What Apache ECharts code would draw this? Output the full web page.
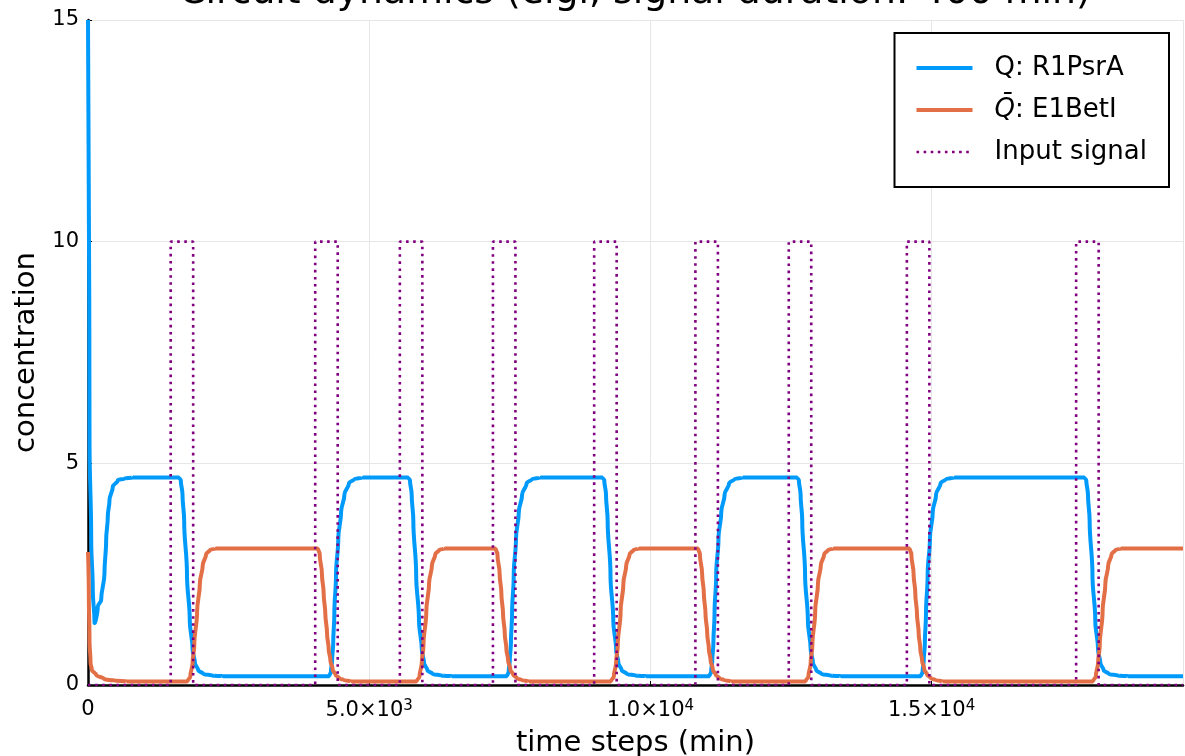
<!DOCTYPE html>
<html>
<head>
<meta charset="utf-8">
<script src="https://cdn.jsdelivr.net/npm/echarts@6/dist/echarts.min.js"></script>
<style>
  html, body { margin: 0; padding: 0; background: #ffffff; }
  #chart { width: 1185px; height: 756px; }
</style>
</head>
<body>
<div id="chart"></div>
<script>
// Q: R1PsrA concentration, [time (min), value]
const qPoints = [
  [0, 15], [27, 5.5], [57, 3.27], [85, 2.14], [115, 1.43], [174, 1.77], [234, 1.92],
  [293, 2.52], [323, 3.27], [352, 3.8], [382, 4.17], [441, 4.47], [530, 4.62], [649, 4.66], [800, 4.68],
  [1620, 4.68], [1650, 4.62], [1680, 4.3], [1710, 3.7], [1760, 2.5], [1810, 1.45], [1860, 0.8],
  [1900, 0.5], [1960, 0.33], [2050, 0.25], [2220, 0.21], [2400, 0.2],
  [4290, 0.2], [4320, 0.3], [4340, 0.55], [4360, 0.95], [4380, 1.6], [4410, 2.5], [4450, 3.3],
  [4500, 3.9], [4560, 4.3], [4640, 4.55], [4740, 4.65], [4890, 4.68],
  [5695, 4.68], [5725, 4.62], [5755, 4.3], [5785, 3.7], [5835, 2.5], [5885, 1.45], [5935, 0.8],
  [5975, 0.5], [6035, 0.33], [6125, 0.25], [6295, 0.21], [6475, 0.2],
  [7450, 0.2], [7480, 0.3], [7500, 0.55], [7520, 0.95], [7540, 1.6], [7570, 2.5], [7610, 3.3],
  [7660, 3.9], [7720, 4.3], [7800, 4.55], [7900, 4.65], [8050, 4.68],
  [9150, 4.68], [9180, 4.62], [9210, 4.3], [9240, 3.7], [9290, 2.5], [9340, 1.45], [9390, 0.8],
  [9430, 0.5], [9490, 0.33], [9580, 0.25], [9750, 0.21], [9930, 0.2],
  [11050, 0.2], [11080, 0.3], [11100, 0.55], [11120, 0.95], [11140, 1.6], [11170, 2.5], [11210, 3.3],
  [11260, 3.9], [11320, 4.3], [11400, 4.55], [11500, 4.65], [11650, 4.68],
  [12610, 4.68], [12640, 4.62], [12670, 4.3], [12700, 3.7], [12750, 2.5], [12800, 1.45], [12850, 0.8],
  [12890, 0.5], [12950, 0.33], [13040, 0.25], [13210, 0.21], [13390, 0.2],
  [14810, 0.2], [14840, 0.3], [14860, 0.55], [14880, 0.95], [14900, 1.6], [14930, 2.5], [14970, 3.3],
  [15020, 3.9], [15080, 4.3], [15160, 4.55], [15260, 4.65], [15410, 4.68],
  [17720, 4.68], [17750, 4.62], [17780, 4.3], [17810, 3.7], [17860, 2.5], [17910, 1.45], [17960, 0.8],
  [18000, 0.5], [18060, 0.33], [18150, 0.25], [18320, 0.21], [18500, 0.2],
  [19470, 0.2]
];

// Q-bar: E1BetI concentration, [time (min), value]
const qbarPoints = [
  [0, 3.0], [15, 2.0], [27, 1.0], [45, 0.5], [68, 0.34], [145, 0.23], [293, 0.13], [471, 0.1], [700, 0.08],
  [1770, 0.08], [1820, 0.2], [1860, 0.5], [1890, 0.9], [1940, 1.65], [1990, 2.3], [2040, 2.7],
  [2100, 2.95], [2170, 3.05], [2270, 3.08],
  [4090, 3.08], [4120, 2.95], [4160, 2.5], [4190, 2.07], [4220, 1.6], [4250, 1.17], [4280, 0.8],
  [4310, 0.56], [4350, 0.35], [4400, 0.23], [4470, 0.15], [4550, 0.11], [4690, 0.08],
  [5845, 0.08], [5895, 0.2], [5935, 0.5], [5965, 0.9], [6015, 1.65], [6065, 2.3], [6115, 2.7],
  [6175, 2.95], [6245, 3.05], [6345, 3.08],
  [7250, 3.08], [7280, 2.95], [7320, 2.5], [7350, 2.07], [7380, 1.6], [7410, 1.17], [7440, 0.8],
  [7470, 0.56], [7510, 0.35], [7560, 0.23], [7630, 0.15], [7710, 0.11], [7850, 0.08],
  [9300, 0.08], [9350, 0.2], [9390, 0.5], [9420, 0.9], [9470, 1.65], [9520, 2.3], [9570, 2.7],
  [9630, 2.95], [9700, 3.05], [9800, 3.08],
  [10850, 3.08], [10880, 2.95], [10920, 2.5], [10950, 2.07], [10980, 1.6], [11010, 1.17], [11040, 0.8],
  [11070, 0.56], [11110, 0.35], [11160, 0.23], [11230, 0.15], [11310, 0.11], [11450, 0.08],
  [12760, 0.08], [12810, 0.2], [12850, 0.5], [12880, 0.9], [12930, 1.65], [12980, 2.3], [13030, 2.7],
  [13090, 2.95], [13160, 3.05], [13260, 3.08],
  [14610, 3.08], [14640, 2.95], [14680, 2.5], [14710, 2.07], [14740, 1.6], [14770, 1.17], [14800, 0.8],
  [14830, 0.56], [14870, 0.35], [14920, 0.23], [14990, 0.15], [15070, 0.11], [15210, 0.08],
  [17870, 0.08], [17920, 0.2], [17960, 0.5], [17990, 0.9], [18040, 1.65], [18090, 2.3], [18140, 2.7],
  [18200, 2.95], [18270, 3.05], [18370, 3.08],
  [19470, 3.08]
];

// Input pulses (min) and their level
const pulseStart = [1470, 4040, 5545, 7200, 9000, 10800, 12460, 14560, 17570];
const pulseEnd   = [1870, 4440, 5945, 7600, 9400, 11200, 12860, 14960, 17970];
const pulseLevel = 10;
const tEnd = 19470;

// Axis ticks
const xTickValues = [0, 5000, 10000, 15000];
const xTickLabels = ['0', '5.0×10{sup|3}', '1.0×10{sup|4}', '1.5×10{sup|4}'];
const yTickValues = [0, 5, 10, 15];

const seriesNames = ['Q: R1PsrA', 'Q̄: E1BetI', 'Input signal'];
const seriesColors = ['#009AFA', '#E36F47', '#800080'];

// square-wave polyline for the input signal
const signalPoints = [[0, 0]];
pulseStart.forEach((s, i) => {
  signalPoints.push([s, 0], [s, pulseLevel], [pulseEnd[i], pulseLevel], [pulseEnd[i], 0]);
});
signalPoints.push([tEnd, 0]);

const FONT = 'DejaVu Sans';
const dotted = [2.6, 4.5];
const chart = echarts.init(document.getElementById('chart'), null, { renderer: 'canvas' });

chart.setOption({
  animation: false,
  backgroundColor: '#ffffff',
  title: {
    text: 'Circuit dynamics (elgl, signal duration: 400 min)',
    left: 179,
    top: -26,
    padding: 0,
    textStyle: { fontFamily: FONT, fontSize: 37.8, fontWeight: 'normal', color: '#000' }
  },
  grid: { left: 88, right: 2, top: 20, bottom: 71, containLabel: false, outerBoundsMode: 'none' },
  legend: {
    orient: 'vertical',
    right: 16,
    top: 33,
    padding: [20, 22, 20, 20],
    itemGap: 12,
    itemWidth: 56,
    itemHeight: 4,
    backgroundColor: '#fff',
    borderColor: '#000',
    borderWidth: 2,
    borderRadius: 0,
    itemStyle: { opacity: 0 },
    data: [
      { name: seriesNames[0], lineStyle: { color: seriesColors[0], width: 4 } },
      { name: seriesNames[1], lineStyle: { color: seriesColors[1], width: 4 } },
      { name: seriesNames[2], lineStyle: { color: seriesColors[2], width: 2.6, type: dotted } }
    ],
    formatter: function (name) {
      if (name === seriesNames[1]) return '{it|Q̄}: E1BetI';
      return name;
    },
    textStyle: {
      fontFamily: FONT, fontSize: 26, color: '#000', lineHeight: 30, padding: [0, 0, 0, 17],
      rich: { it: { fontFamily: FONT, fontStyle: 'italic', fontSize: 26, lineHeight: 30 } }
    }
  },
  xAxis: {
    type: 'value',
    min: 0,
    max: tEnd,
    interval: 5000,
    name: 'time steps (min)',
    nameLocation: 'middle',
    nameGap: 44,
    nameTextStyle: { fontFamily: FONT, fontSize: 29, color: '#000' },
    axisLine: { show: true, onZero: false, lineStyle: { color: '#000', width: 2.5 } },
    axisTick: { show: true, inside: true, length: 4, lineStyle: { color: '#000', width: 1 } },
    splitLine: { show: true, lineStyle: { color: '#e6e6e6', width: 1 } },
    axisLabel: {
      fontFamily: FONT, fontSize: 21, color: '#000', margin: 14,
      showMaxLabel: false,
      formatter: function (v) {
        const i = xTickValues.indexOf(v);
        return i >= 0 ? xTickLabels[i] : '';
      },
      rich: { sup: { fontFamily: FONT, fontSize: 15, color: '#000', verticalAlign: 'top', padding: [0, 0, 8, 0] } }
    }
  },
  yAxis: {
    type: 'value',
    min: 0,
    max: 15,
    interval: 5,
    name: 'concentration',
    nameLocation: 'middle',
    nameGap: 47,
    nameTextStyle: { fontFamily: FONT, fontSize: 29, color: '#000' },
    axisLine: { show: true, onZero: false, lineStyle: { color: '#000', width: 2.5 } },
    axisTick: { show: true, inside: true, length: 4, lineStyle: { color: '#000', width: 1 } },
    splitLine: { show: true, lineStyle: { color: '#e6e6e6', width: 1 } },
    axisLabel: {
      fontFamily: FONT, fontSize: 21, color: '#000', margin: 9,
      formatter: function (v) { return yTickValues.indexOf(v) >= 0 ? String(v) : ''; }
    }
  },
  series: [
    {
      name: seriesNames[0], type: 'line', data: qPoints, symbol: 'none', clip: true,
      smooth: 0.4, smoothMonotone: 'y',
      color: seriesColors[0], lineStyle: { color: seriesColors[0], width: 4 }
    },
    {
      name: seriesNames[1], type: 'line', data: qbarPoints, symbol: 'none', clip: true,
      smooth: 0.4, smoothMonotone: 'y',
      color: seriesColors[1], lineStyle: { color: seriesColors[1], width: 4 }
    },
    {
      name: seriesNames[2], type: 'line', data: signalPoints, symbol: 'none', clip: true,
      color: seriesColors[2], lineStyle: { color: seriesColors[2], width: 2.6, type: dotted }
    }
  ]
});
</script>
</body>
</html>
